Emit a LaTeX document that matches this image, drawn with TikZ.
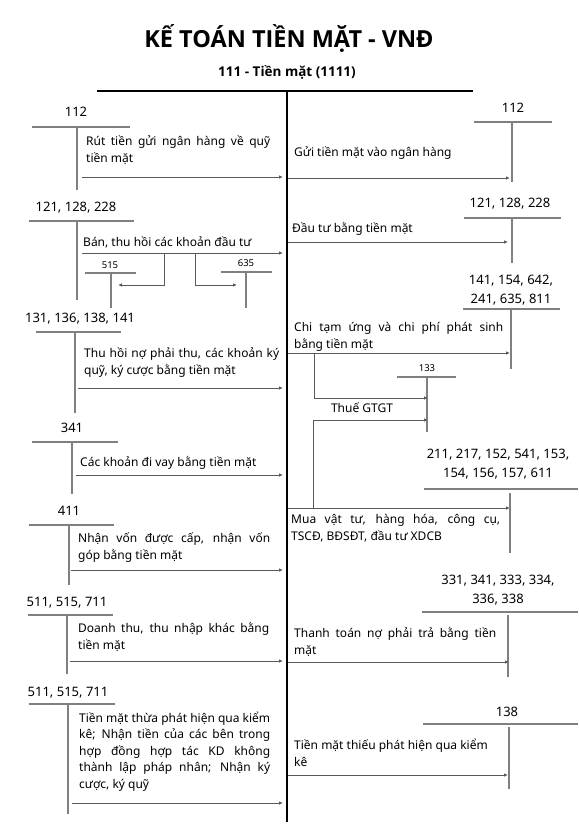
\documentclass[tikz,border=0pt]{standalone}
\usepackage{fontspec}
\setmainfont{Noto Sans}
\newfontfamily\headfont{Open Sans}
\usepackage{tikz}
\usetikzlibrary{arrows.meta}
\newcommand{\jl}[2]{\makebox[#1pt][s]{#2}}

\begin{document}
\begin{tikzpicture}[
    x=1pt, y=-1pt,
    acct/.style={draw=black!50, line width=1.2pt},
    flow/.style={draw=black!65, line width=0.9pt, -{Latex[length=4pt,width=3.5pt]}},
    num/.style={inner sep=0pt, font=\fontsize{13}{19}\selectfont, align=center},
    small/.style={inner sep=0pt, font=\fontsize{9.5}{11}\selectfont},
    memo/.style={anchor=north west, inner sep=0pt, align=left, font=\fontsize{12}{17}\selectfont}
  ]
    \useasboundingbox (0,0) rectangle (578,826);

    % Title
    \node[font=\headfont\bfseries\fontsize{23.5}{27}\selectfont] (title) at (289,38) {KẾ TOÁN TIỀN MẶT - VNĐ};
    \node[font=\headfont\bfseries\fontsize{13.5}{15}\selectfont] (sub) at (287,72) {111 - Tiền mặt (1111)};

    % Main T account
    \coordinate (tl) at (97,91);
    \coordinate (tr) at (473,91);
    \coordinate (tt) at (287,91);
    \coordinate (tb) at (287,822);
    \draw[line width=2pt] (tl) -- (tr);
    \draw[line width=2pt] (tt) -- (tb);

    \begin{scope}
      % Debit side
      \node[num] (l112) at (76,112) {112};
      \draw[acct] (32,127) -- (130,127) (77,127) -- (77,190);
      \node[memo] (m1) at (86,133.6) {\strut\jl{184}{Rút tiền gửi ngân hàng về quỹ}\\tiền mặt};
      \draw[flow] (82,177) -- (283,177);

      \node[num] (l121) at (76,208) {121, 128, 228};
      \draw[acct] (29,221) -- (134,221) (77,221) -- (77,300);
      \node[memo] (m2) at (83,234.6) {\strut Bán, thu hồi các khoản đầu tư};
      \draw[flow] (82,253) -- (283,253);

      \node[small] (l515) at (110,265) {515};
      \draw[acct] (85,273) -- (136,273) (111,273) -- (111,308);
      \node[small] (l635) at (246,263) {635};
      \draw[acct] (221,272) -- (272,272) (246,272) -- (246,308);
      \draw[flow] (164,253) -- (164,285) -- (118,285);
      \draw[flow] (195,253) -- (195,285) -- (237,285);

      \node[num] (l131) at (80,319) {131, 136, 138, 141};
      \draw[acct] (36,332) -- (121,332) (75,332) -- (75,413);
      \node[memo] (m3) at (84,345.6) {\strut\jl{195}{Thu hồi nợ phải thu, các khoản ký}\\quỹ, ký cược bằng tiền mặt};
      \draw[flow] (78,388) -- (283,388);

      \node[num] (l341) at (72,428) {341};
      \draw[acct] (32,442) -- (118,442) (72,442) -- (72,494);
      \node[memo] (m4) at (80,454.6) {\strut Các khoản đi vay bằng tiền mặt};
      \draw[flow] (76,475) -- (283,475);

      \node[num] (l411) at (69,511) {411};
      \draw[acct] (29,525) -- (114,525) (69,525) -- (69,585);
      \node[memo] (m5) at (78,530.6) {\strut\jl{192}{Nhận vốn được cấp, nhận vốn}\\góp bằng tiền mặt};
      \draw[flow] (71,570) -- (283,570);

      \node[num] (l511a) at (67,603) {511, 515, 711};
      \draw[acct] (28,615) -- (113,615) (67,615) -- (67,674);
      \node[memo] (m6) at (78,620.6) {\strut\jl{191}{Doanh thu, thu nhập khác bằng}\\tiền mặt};
      \draw[flow] (70,661) -- (283,661);

      \node[num] (l511b) at (68,693) {511, 515, 711};
      \draw[acct] (29,704) -- (115,704) (68,704) -- (68,814);
      \node[memo, font=\fontsize{12}{16.5}\selectfont] (m7) at (79,710.6) {\strut\jl{191}{Tiền mặt thừa phát hiện qua kiểm}\\
        \jl{191}{kê; Nhận tiền của các bên trong}\\
        \jl{191}{hợp đồng hợp tác KD không}\\
        \jl{191}{thành lập pháp nhân; Nhận ký}\\
        cược, ký quỹ};
      \draw[flow] (72,803) -- (283,803);
    \end{scope}

    \begin{scope}
      % Credit side
      \node[num] (r112) at (513,108) {112};
      \draw[acct] (474,122) -- (552,122) (512,122) -- (512,182);
      \node[memo] (m8) at (294,144.6) {\strut Gửi tiền mặt vào ngân hàng};
      \draw[flow] (288,178) -- (510,178);

      \node[num] (r121) at (510,204) {121, 128, 228};
      \draw[acct] (464,218) -- (561,218) (512,218) -- (512,263);
      \node[memo] (m9) at (292,220.6) {\strut Đầu tư bằng tiền mặt};
      \draw[flow] (288,242) -- (508,242);

      \node[num] (r141) at (511,290) {141, 154, 642,\\241, 635, 811};
      \draw[acct] (463,309) -- (560,309) (511,309) -- (511,369);
      \node[memo] (m10) at (294,319.6) {\strut\jl{209}{Chi tạm ứng và chi phí phát sinh}\\bằng tiền mặt};
      \draw[flow] (288,353) -- (510,353);

      % VAT
      \node[small] (r133) at (427,368) {133};
      \draw[acct] (397,377) -- (456,377) (427,377) -- (427,432);
      \draw[flow] (314,353) -- (314,398) -- (428,398);
      \node[font=\fontsize{12}{14}\selectfont] (vat) at (362,408) {Thuế GTGT};
      \draw[flow] (313,508) -- (313,420) -- (428,420);

      \node[num] (r211) at (498,464) {211, 217, 152, 541, 153,\\154, 156, 157, 611};
      \draw[acct] (424,489) -- (578,489) (510,493) -- (510,553);
      \draw[flow] (288,508) -- (510,508);
      \node[memo] (m11) at (291,511.6) {\strut\jl{209}{Mua vật tư, hàng hóa, công cụ,}\\TSCĐ, BĐSĐT, đầu tư XDCB};

      \node[num] (r331) at (498,590) {331, 341, 333, 334,\\336, 338};
      \draw[acct] (422,612) -- (578,612) (508,615) -- (508,677);
      \node[memo] (m12) at (294,625.6) {\strut\jl{202}{Thanh toán nợ phải trả bằng tiền}\\mặt};
      \draw[flow] (288,662) -- (509,662);

      \node[num] (r138) at (507,712) {138};
      \draw[acct] (423,724) -- (578,724) (509,727) -- (509,789);
      \node[memo] (m13) at (294,737.6) {\strut Tiền mặt thiếu phát hiện qua kiểm\\kê};
      \draw[flow] (288,775) -- (508,775);
    \end{scope}
  \end{tikzpicture}
\end{document}
